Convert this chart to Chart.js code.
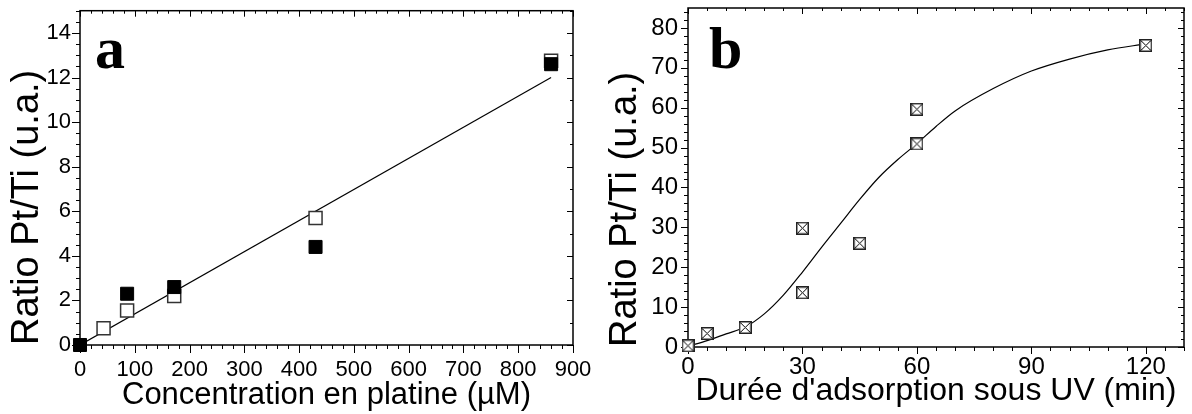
<!DOCTYPE html>
<html>
<head>
<meta charset="utf-8">
<script src="https://cdn.jsdelivr.net/npm/chart.js@4/dist/chart.umd.min.js"></script>
<style>
  html, body { margin: 0; padding: 0; background: #fff; }
  #wrap { position: relative; width: 1192px; height: 414px; }
  canvas { position: absolute; top: 0; }
  #chartA { left: 0; }
  #chartB { left: 596px; }
</style>
</head>
<body>
<div id="wrap">
  <canvas id="chartA" width="596" height="414"></canvas>
  <canvas id="chartB" width="596" height="414"></canvas>
</div>
<script>
// panel a : ratio vs concentration
const concOpenA = [43, 86, 172, 430, 860];
const ratioOpenA = [0.75, 1.55, 2.2, 5.7, 12.75];
const concFilledA = [0, 86, 172, 430, 860];
const ratioFilledA = [0, 2.3, 2.6, 4.4, 12.6];
const fitConcA = [0, 860];
const fitRatioA = [0, 12.0];
const xTicksA = [0, 100, 200, 300, 400, 500, 600, 700, 800, 900];
const yTicksA = [0, 2, 4, 6, 8, 10, 12, 14];

// panel b : ratio vs UV time
const timeB = [0, 5, 15, 30, 30, 45, 60, 60, 120];
const ratioB = [0.3, 3.4, 4.9, 13.6, 29.8, 26.0, 50.9, 59.6, 75.6];
const curveTimeB = [0, 5, 10, 15, 20, 25, 30, 35, 40, 45, 50, 55, 60, 65, 70, 80, 90, 100, 110, 120];
const curveRatioB = [0.2, 1.6, 3.3, 5.0, 8.3, 13.0, 18.8, 25.0, 31.0, 37.0, 42.5, 47.0, 51.0, 55.3, 59.2, 64.8, 69.2, 72.2, 74.5, 76.0];
const xTicksB = [0, 30, 60, 90, 120];
const yTicksB = [0, 10, 20, 30, 40, 50, 60, 70, 80];

Chart.defaults.font.family = '"Liberation Sans", Arial, sans-serif';
Chart.defaults.color = '#000';

const pts = (xs, ys) => xs.map((x, i) => ({ x: x, y: ys[i] }));

// boxed cross marker of panel b
const boxCross = document.createElement('canvas');
boxCross.width = 13;
boxCross.height = 13;
(function () {
  const c = boxCross.getContext('2d');
  c.fillStyle = '#fff';
  c.fillRect(0, 0, 13, 13);
  c.strokeStyle = '#222';
  c.lineWidth = 1.5;
  c.strokeRect(0.75, 0.75, 11.5, 11.5);
  c.lineWidth = 1;
  c.strokeStyle = '#000';
  c.beginPath();
  c.moveTo(1.5, 1.5); c.lineTo(11.5, 11.5);
  c.moveTo(11.5, 1.5); c.lineTo(1.5, 11.5);
  c.stroke();
})();

// frame + major/minor ticks on the four sides
const frameTicks = {
  id: 'frameTicks',
  beforeDatasetsDraw(chart, args, o) {
    const { ctx, chartArea: { left, right, top, bottom } } = chart;
    const xs = chart.scales.x, ys = chart.scales.y;
    const isMajor = (v, step) => Math.abs(v / step - Math.round(v / step)) < 1e-6;
    ctx.save();
    ctx.strokeStyle = '#000';
    ctx.lineWidth = 1;
    ctx.beginPath();
    const sideX = (minor, y0, dir, lenMaj, lenMin) => {
      for (let i = 0; ; i++) {
        const v = xs.min + i * minor;
        if (v > xs.max + 1e-9) break;
        const px = Math.round(xs.getPixelForValue(v)) + 0.5;
        const len = isMajor(v, o.xMajor) ? lenMaj : lenMin;
        ctx.moveTo(px, y0);
        ctx.lineTo(px, y0 + dir * len);
      }
    };
    const sideY = (minor, x0, dir, lenMaj, lenMin) => {
      for (let i = 0; ; i++) {
        const v = ys.min + i * minor;
        if (v > ys.max + 1e-9) break;
        const py = Math.round(ys.getPixelForValue(v)) + 0.5;
        const len = isMajor(v, o.yMajor) ? lenMaj : lenMin;
        ctx.moveTo(x0, py);
        ctx.lineTo(x0 + dir * len, py);
      }
    };
    sideX(o.xMinor, bottom, 1, o.outMajor, o.outMinor);
    sideX(o.xMinor, top, 1, o.inMajor, o.inMinor);
    sideY(o.yMinor, left, -1, o.outMajor, o.outMinor);
    sideY(o.yMinorRight || o.yMinor, right, -1, o.inMajor, o.inMinor);
    ctx.stroke();
    ctx.lineWidth = 1.5;
    ctx.strokeRect(left, top, right - left, bottom - top);
    ctx.restore();
  }
};

const panelLetter = {
  id: 'panelLetter',
  afterDraw(chart, args, o) {
    const { ctx, chartArea } = chart;
    ctx.save();
    ctx.font = 'bold 60px "Liberation Serif", "Times New Roman", serif';
    ctx.fillStyle = '#000';
    ctx.textBaseline = 'alphabetic';
    ctx.fillText(o.text, chartArea.left + o.dx, chartArea.top + o.dy);
    ctx.restore();
  }
};

function axis(o) {
  return {
    type: 'linear',
    position: o.position,
    min: o.min,
    max: o.max,
    afterBuildTicks: s => { s.ticks = o.ticks.map(v => ({ value: v })); },
    afterFit: s => {
      if (o.position === 'left') s.width = o.size; else s.height = o.size;
      s.paddingLeft = s.paddingRight = s.paddingTop = s.paddingBottom = 0;
    },
    grid: { display: false, drawTicks: false },
    border: { display: false },
    ticks: {
      color: '#000',
      font: { size: o.tickSize },
      padding: o.tickPad,
      maxRotation: 0,
      autoSkip: false,
      callback: v => String(v)
    },
    title: {
      display: true,
      text: o.title,
      color: '#000',
      font: { size: o.titleSize },
      padding: o.titlePad,
      align: o.align || 'center'
    }
  };
}

new Chart(document.getElementById('chartA'), {
  type: 'scatter',
  data: {
    datasets: [
      {
        data: pts(concFilledA, ratioFilledA),
        pointStyle: 'rect',
        pointRadius: 9.2,
        backgroundColor: '#000',
        borderColor: '#000',
        borderWidth: 1,
        clip: false,
        order: 1
      },
      {
        data: pts(concOpenA, ratioOpenA),
        pointStyle: 'rect',
        pointRadius: 9.2,
        backgroundColor: '#fff',
        borderColor: '#333',
        borderWidth: 1.5,
        clip: false,
        order: 2
      },
      {
        data: pts(fitConcA, fitRatioA),
        showLine: true,
        pointRadius: 0,
        borderColor: '#000',
        borderWidth: 1.2,
        order: 3
      }
    ]
  },
  options: {
    responsive: false,
    animation: false,
    layout: { padding: { top: 10, right: 23, bottom: 0, left: 0 } },
    plugins: {
      legend: { display: false },
      tooltip: { enabled: false },
      frameTicks: { xMajor: 100, xMinor: 20, yMajor: 2, yMinor: 0.5, yMinorRight: 1, outMajor: 8, outMinor: 4, inMajor: 6, inMinor: 3 },
      panelLetter: { text: 'a', dx: 15, dy: 57 }
    },
    scales: {
      x: axis({ position: 'bottom', min: 0, max: 900, ticks: xTicksA, size: 69, tickSize: 22, tickPad: 12,
        title: 'Concentration en platine (\u00b5M)', titleSize: 31, titlePad: { top: 0, bottom: 0 } }),
      y: axis({ position: 'left', min: 0, max: 15, ticks: yTicksA, size: 80, tickSize: 22, tickPad: 9,
        title: 'Ratio Pt/Ti (u.a.)', titleSize: 38, titlePad: { top: 5, bottom: 0 }, align: 'start' })
    }
  },
  plugins: [frameTicks, panelLetter]
});

new Chart(document.getElementById('chartB'), {
  type: 'scatter',
  data: {
    datasets: [
      {
        data: pts(timeB, ratioB),
        pointStyle: boxCross,
        pointRadius: 7,
        clip: false,
        order: 1
      },
      {
        data: pts(curveTimeB, curveRatioB),
        showLine: true,
        cubicInterpolationMode: 'monotone',
        pointRadius: 0,
        borderColor: '#000',
        borderWidth: 1.2,
        order: 2
      }
    ]
  },
  options: {
    responsive: false,
    animation: false,
    layout: { padding: { top: 7, right: 1, bottom: 0, left: 0 } },
    plugins: {
      legend: { display: false },
      tooltip: { enabled: false },
      frameTicks: { xMajor: 30, xMinor: 5, yMajor: 10, yMinor: 2, outMajor: 7, outMinor: 4, inMajor: 6, inMinor: 3 },
      panelLetter: { text: 'b', dx: 21, dy: 60 }
    },
    scales: {
      x: axis({ position: 'bottom', min: 0, max: 130, ticks: xTicksB, size: 67, tickSize: 24, tickPad: 6,
        title: "Dur\u00e9e d'adsorption sous UV (min)", titleSize: 32, titlePad: { top: 0, bottom: 4 } }),
      y: axis({ position: 'left', min: 0, max: 85, ticks: yTicksB, size: 92, tickSize: 24, tickPad: 10,
        title: 'Ratio Pt/Ti (u.a.)', titleSize: 38, titlePad: { top: 7, bottom: 0 }, align: 'start' })
    }
  },
  plugins: [frameTicks, panelLetter]
});
</script>
</body>
</html>
